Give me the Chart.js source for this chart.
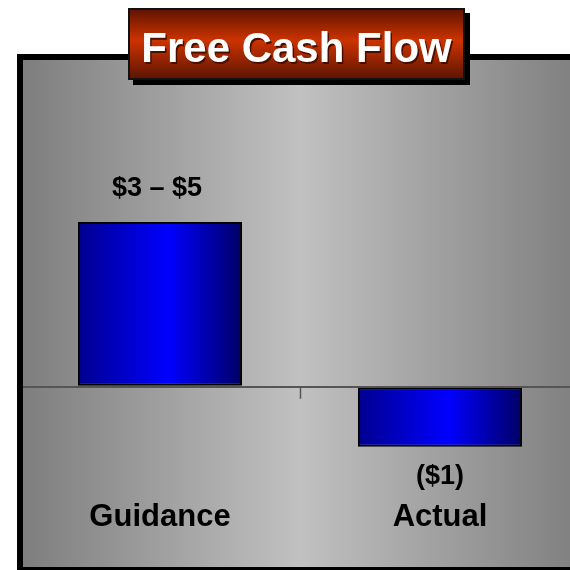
<!DOCTYPE html>
<html>
<head>
<meta charset="utf-8">
<script src="https://cdn.jsdelivr.net/npm/chart.js@4.4.1/dist/chart.umd.min.js"></script>
<style>
    html, body { margin: 0; padding: 0; background: #fff; overflow: hidden; width: 570px; height: 570px; }
    #fcfChart { position: absolute; left: 0; top: 0; }
</style>
</head>
<body>
<canvas id="fcfChart" width="600" height="570"></canvas>
<script>
const chartTitle = "Free Cash Flow";
const categories = ["Guidance", "Actual"];
const fcfValues = [2.75, -1];
const valueLabels = ["$3 – $5", "($1)"];

const FONT = '"Liberation Sans", Arial, Helvetica, sans-serif';
const barShare = 0.586;

Chart.defaults.font.family = FONT;

// gray panel with black frame behind the plot
const panelPlugin = {
    id: 'panel',
    beforeDraw(chart) {
        const ctx = chart.ctx;
        ctx.save();
        ctx.fillStyle = '#000';
        ctx.fillRect(17, 54, chart.width - 17, chart.height - 54);
        const g = ctx.createLinearGradient(23, 0, chart.width, 0);
        g.addColorStop(0, '#7e7e7e');
        g.addColorStop(0.48, '#c1c1c1');
        g.addColorStop(1, '#7a7a7a');
        ctx.fillStyle = g;
        ctx.fillRect(23, 60, chart.width - 23, 567 - 60);
        ctx.restore();
    },
    afterDatasetsDraw(chart) {
        // keep the left frame on top of the zero line
        const ctx = chart.ctx;
        ctx.save();
        ctx.fillStyle = '#000';
        ctx.fillRect(17, 60, 6, 507);
        ctx.restore();
    }
};

// small tick under the zero line between the categories
const tickPlugin = {
    id: 'midTick',
    afterDatasetsDraw(chart) {
        const x = chart.scales.x, y = chart.scales.y;
        const mid = (x.getPixelForValue(0) + x.getPixelForValue(1)) / 2;
        const zero = y.getPixelForValue(0);
        const ctx = chart.ctx;
        ctx.save();
        ctx.strokeStyle = '#555';
        ctx.lineWidth = 1.5;
        ctx.beginPath();
        ctx.moveTo(Math.round(mid) + 0.5, zero);
        ctx.lineTo(Math.round(mid) + 0.5, zero + 12);
        ctx.stroke();
        ctx.restore();
    }
};

// value text above / below each bar
const labelPlugin = {
    id: 'valueLabels',
    afterDatasetsDraw(chart) {
        const ctx = chart.ctx;
        const meta = chart.getDatasetMeta(0);
        ctx.save();
        ctx.font = 'bold 27px ' + FONT;
        ctx.fillStyle = '#000';
        ctx.textAlign = 'center';
        ctx.textBaseline = 'middle';
        meta.data.forEach((bar, i) => {
            const up = fcfValues[i] >= 0;
            ctx.fillText(valueLabels[i], bar.x - (up ? 3 : 0), up ? bar.y - 33 : bar.y + 30);
        });
        ctx.restore();
    }
};

// red title box with drop shadow
const titlePlugin = {
    id: 'titleBox',
    afterDraw(chart) {
        const ctx = chart.ctx;
        const bx = 128, by = 8, bw = 337, bh = 72;
        ctx.save();
        ctx.fillStyle = '#000';
        ctx.fillRect(bx + 5, by + 5, bw, bh);
        const g = ctx.createLinearGradient(0, by, 0, by + bh);
        g.addColorStop(0, '#5c1200');
        g.addColorStop(0.45, '#cc3300');
        g.addColorStop(1, '#5a1400');
        ctx.fillStyle = g;
        ctx.fillRect(bx, by, bw, bh);
        ctx.lineWidth = 2;
        ctx.strokeStyle = '#111';
        ctx.strokeRect(bx + 1, by + 1, bw - 2, bh - 2);
        ctx.font = 'bold 42px ' + FONT;
        ctx.textAlign = 'center';
        ctx.textBaseline = 'alphabetic';
        ctx.fillStyle = '#4a0e00';
        ctx.fillText(chartTitle, bx + bw / 2 + 1.5, 62 + 1.5);
        ctx.fillStyle = '#fff';
        ctx.fillText(chartTitle, bx + bw / 2, 62);
        ctx.restore();
    }
};

function barGradient(context) {
    const chart = context.chart;
    const x = chart.scales.x;
    if (context.type !== 'data' || !x || !chart.chartArea) return '#0000ff';
    const left = x.getPixelForValue(context.dataIndex - barShare / 2);
    const right = x.getPixelForValue(context.dataIndex + barShare / 2);
    const g = chart.ctx.createLinearGradient(left, 0, right, 0);
    g.addColorStop(0, '#000090');
    g.addColorStop(0.55, '#0000ff');
    g.addColorStop(1, '#000066');
    return g;
}

const config = {
    type: 'bar',
    data: {
        labels: categories,
        datasets: [
            {
                data: fcfValues,
                backgroundColor: barGradient,
                borderColor: '#000',
                borderWidth: 2,
                borderSkipped: false,
                categoryPercentage: 1,
                barPercentage: barShare,
            }
        ]
    },
    options: {
        responsive: false,
        animation: false,
        devicePixelRatio: 1,
        layout: {
            padding: { left: 20, right: 20, top: 57, bottom: 30 }
        },
        scales: {
            x: {
                grid: { display: false, drawTicks: false },
                border: { display: false },
                ticks: {
                    color: '#000',
                    padding: 4,
                    font: { size: 31, weight: 'bold' },
                },
            },
            y: {
                min: -1.8,
                max: 5.5,
                border: { display: false },
                grid: {
                    drawTicks: false,
                    lineWidth: 2,
                    color: (ctx) => (ctx.tick && ctx.tick.value === 0) ? '#555' : 'rgba(0,0,0,0)',
                },
                ticks: { display: false, stepSize: 1 },
            },
        },
        plugins: {
            legend: { display: false },
            tooltip: { enabled: false },
        }
    },
    plugins: [panelPlugin, tickPlugin, labelPlugin, titlePlugin]
};

new Chart(document.getElementById('fcfChart'), config);
</script>
</body>
</html>
